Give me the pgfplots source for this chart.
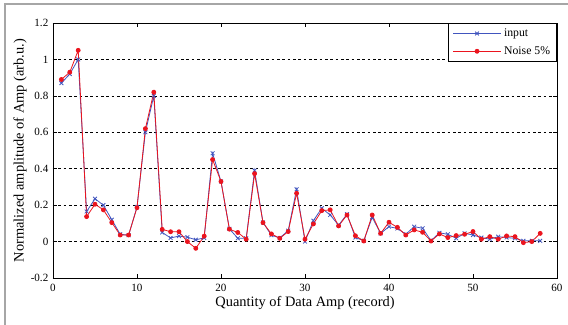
\documentclass[border=0pt]{standalone}
\usepackage{fontspec}
\setmainfont{Liberation Serif}
\usepackage{pgfplots}
\pgfplotsset{compat=1.18}
\definecolor{inblue}{RGB}{65,85,190}
\definecolor{nred}{RGB}{235,20,30}
\begin{document}
\begin{tikzpicture}
\useasboundingbox (-39.75pt,-35.25pt) rectangle (386.25pt,208.5pt);
\draw[gray!70, line width=1pt] (-36pt,-36pt) -- (-36pt,205.5pt) -- (387pt,205.5pt);
\begin{axis}[
  scale only axis,
  width=378pt, height=191.25pt,
  xmin=0, xmax=60, ymin=-0.2, ymax=1.2,
  xtick={0,10,...,60},
  ytick={-0.2,0,0.2,0.4,0.6,0.8,1,1.2},
  yticklabels={-0.2,0,0.2,0.4,0.6,0.8,1,1.2},
  tick align=inside,
  major tick length=3pt,
  tick style={black, thin},
  axis line style={black, thin},
  ymajorgrids,
  major grid style={black, dash pattern=on 2pt off 2pt, line width=0.4pt},
  /pgf/number format/assume math mode=true,
  ticklabel style={font=\fontsize{8.3}{9}\selectfont},
  xticklabel style={yshift=-1pt},
  xlabel={Quantity of Data Amp (record)},
  ylabel={Normalized amplitude of Amp (arb.u.)},
  label style={font=\fontsize{10.8}{12}\selectfont},
  xlabel style={at={(axis description cs:0.5,-0.098)}, anchor=center},
  ylabel style={at={(axis description cs:-0.0655,0.5)}, anchor=center},
  legend style={at={(axis description cs:1,1)}, anchor=north east,
    draw=black, thin, fill=white, font=\fontsize{8.8}{10}\selectfont,
    inner xsep=3pt, inner ysep=2pt, row sep=2pt, cells={anchor=west}},
  legend cell align=left,
  legend image code/.code={\draw[#1, mark repeat=2, mark phase=2] plot coordinates {(0pt,0pt) (18pt,0pt) (36pt,0pt)};},
]
\addplot[color=inblue, line width=0.6pt, mark=x, mark size=2pt, mark options={solid}] coordinates {
(1,0.87) (2,0.92) (3,1.00) (4,0.165) (5,0.235) (6,0.20) (7,0.12) (8,0.04) (9,0.035) (10,0.19)
(11,0.60) (12,0.80) (13,0.05) (14,0.02) (15,0.03) (16,0.024) (17,0.01) (18,0.02) (19,0.485) (20,0.33)
(21,0.07) (22,0.018) (23,0.018) (24,0.39) (25,0.105) (26,0.035) (27,0.02) (28,0.06) (29,0.287) (30,0.0)
(31,0.115) (32,0.183) (33,0.146) (34,0.09) (35,0.15) (36,0.022) (37,0.005) (38,0.133) (39,0.045) (40,0.082)
(41,0.072) (42,0.04) (43,0.082) (44,0.073) (45,0.005) (46,0.048) (47,0.04) (48,0.018) (49,0.045) (50,0.036)
(51,0.022) (52,0.013) (53,0.027) (54,0.022) (55,0.018) (56,0.004) (57,0.004) (58,0.004)
};
\addlegendentry{input}
\addplot[color=nred, line width=0.6pt, mark=*, mark size=1.5pt, mark options={solid, fill=nred}] coordinates {
(1,0.89) (2,0.93) (3,1.05) (4,0.137) (5,0.205) (6,0.174) (7,0.104) (8,0.036) (9,0.036) (10,0.186)
(11,0.62) (12,0.82) (13,0.067) (14,0.054) (15,0.054) (16,0.0) (17,-0.037) (18,0.03) (19,0.45) (20,0.33)
(21,0.068) (22,0.05) (23,0.013) (24,0.373) (25,0.104) (26,0.042) (27,0.018) (28,0.055) (29,0.265) (30,0.013)
(31,0.097) (32,0.17) (33,0.174) (34,0.086) (35,0.146) (36,0.032) (37,0.003) (38,0.146) (39,0.045) (40,0.106)
(41,0.078) (42,0.036) (43,0.064) (44,0.051) (45,0.003) (46,0.042) (47,0.022) (48,0.033) (49,0.04) (50,0.055)
(51,0.013) (52,0.027) (53,0.013) (54,0.031) (55,0.027) (56,-0.006) (57,0.0) (58,0.045)
};
\addlegendentry{Noise 5\%}
\end{axis}
\end{tikzpicture}
\end{document}
